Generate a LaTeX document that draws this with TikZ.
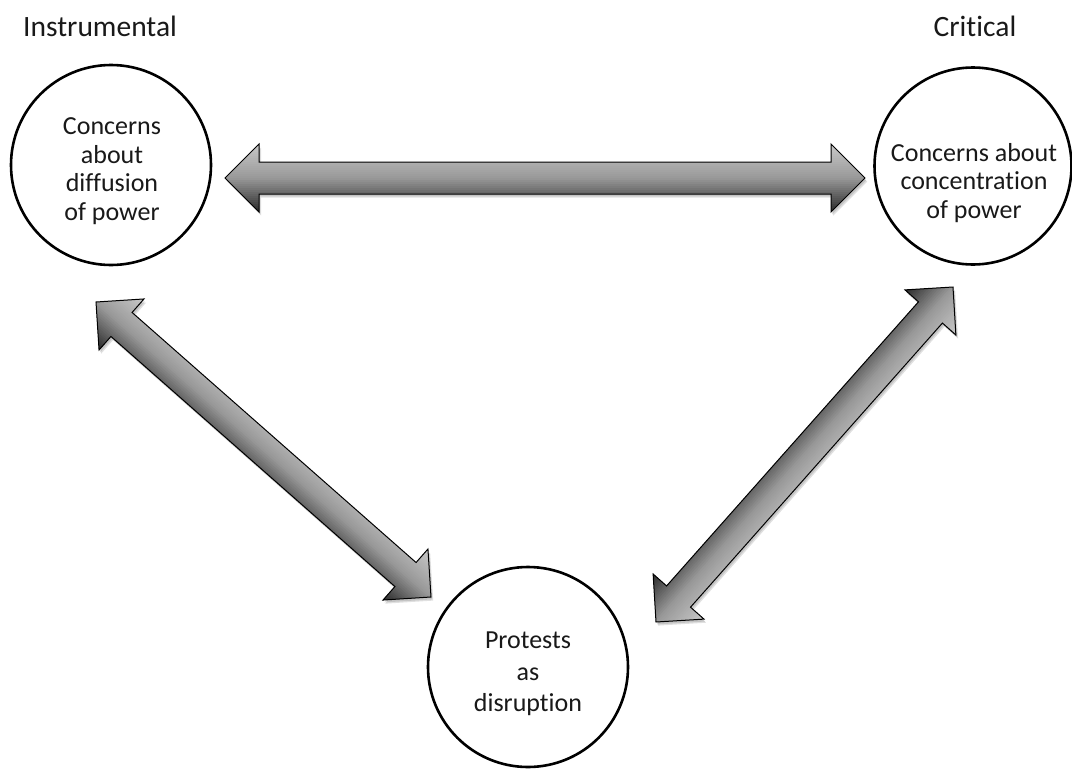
\documentclass[tikz,border=0pt]{standalone}
\usepackage{fontspec}
\setmainfont{Carlito}[Ligatures={NoCommon}]
\usetikzlibrary{calc}
\tikzset{
  ring/.style={circle, draw=black, line width=2.6pt, minimum size=200pt, inner sep=0pt},
  ringtext/.style={align=center, font=\fontsize{26}{28.5}\selectfont, inner sep=0pt, text=black!90},
  headlabel/.style={font=\fontsize{29.5}{32}\selectfont, inner sep=0pt, text=black!90},
  arrowedge/.style={draw=black, line width=1pt, line join=miter},
  arrowshadow/.style={fill=black, opacity=0.12},
}
\newcommand\blockarrowpath[2]{(#1)
  -- ($(#1)!34pt!(#2)!34pt!90:(#2)$)
  -- ($(#1)!34pt!(#2)!16pt!90:(#2)$)
  -- ($(#2)!34pt!(#1)!16pt!-90:(#1)$)
  -- ($(#2)!34pt!(#1)!34pt!-90:(#1)$)
  -- (#2)
  -- ($(#2)!34pt!(#1)!34pt!90:(#1)$)
  -- ($(#2)!34pt!(#1)!16pt!90:(#1)$)
  -- ($(#1)!34pt!(#2)!16pt!-90:(#2)$)
  -- ($(#1)!34pt!(#2)!34pt!-90:(#2)$)
  -- cycle}
\newcommand\blockarrow[2]{%
  \begin{scope}[transform canvas={shift={(1.2pt,-2.4pt)}}]
    \fill[arrowshadow] \blockarrowpath{#1}{#2};
  \end{scope}
  \begin{scope}[transform canvas={shift={(2.2pt,-3.6pt)}}]
    \fill[arrowshadow] \blockarrowpath{#1}{#2};
  \end{scope}
  \begin{scope}
    \clip \blockarrowpath{#1}{#2};
    \foreach \i in {0,...,33}{%
      \pgfmathsetmacro\dd{33-2*\i}%
      \pgfmathsetmacro\pp{\i<17 ? 22+18*\i/16.5 : 40+42*(\i-16.5)/16.5}%
      \draw[line width=2.5pt, draw=black!\pp] ($(#1)!\dd pt!90:(#2)$) -- ($(#2)!\dd pt!-90:(#1)$);
    }%
  \end{scope}
  \draw[arrowedge] \blockarrowpath{#1}{#2};
}
\begin{document}
\begin{tikzpicture}[x=1pt,y=-1pt]
\useasboundingbox[fill=white] (0,0) rectangle (1072,769);
% circles
\node[ring] (left) at (111,165) {};
\node[ring, minimum size=197pt] (right) at (973,166) {};
\node[ring] (bottom) at (528,667) {};
% texts
\node[ringtext] (lefttext) at (112,171) {Concerns\\about\\diffusion\\of power};
\node[ringtext] (righttext) at (974,183) {Concerns about\\concentration\\of power};
\node[ringtext, font=\fontsize{26}{31.5}\selectfont] (bottomtext) at (528,674) {Protests\\as\\disruption};
\node[headlabel, anchor=base west] (instr) at (23,36) {Instrumental};
\node[headlabel, anchor=base] (crit) at (975,36) {Critical};
% arrow end points
\coordinate (hA) at (225,178);
\coordinate (hB) at (865,178);
\coordinate (lA) at (96,302);
\coordinate (lB) at (431,597);
\coordinate (rA) at (953,287);
\coordinate (rB) at (656,622);
\blockarrow{hA}{hB}
\blockarrow{lA}{lB}
\blockarrow{rA}{rB}
\end{tikzpicture}
\end{document}
